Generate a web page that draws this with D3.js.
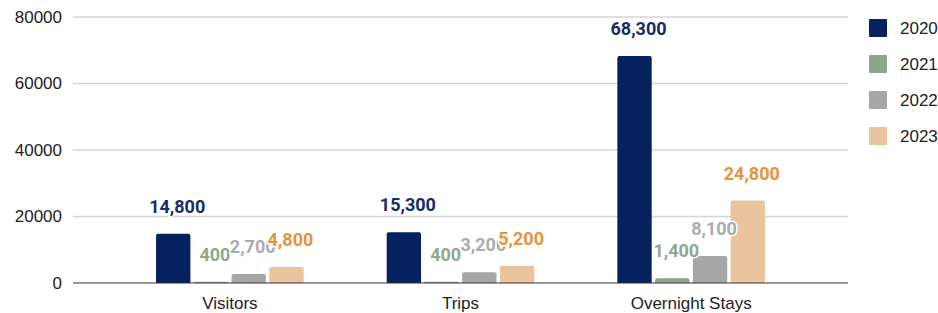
<!DOCTYPE html>
<html>
<head>
<meta charset="utf-8">
<script src="https://cdn.jsdelivr.net/npm/d3@7"></script>
<style>
  body { margin: 0; background: #fff; }
  #chart { width: 938px; height: 313px; }
  text { font-family: "Liberation Sans", Arial, sans-serif; }
</style>
</head>
<body>
<div id="chart"></div>
<script>
const categories = ["Visitors", "Trips", "Overnight Stays"];
const years = ["2020", "2021", "2022", "2023"];
const values2020 = [14800, 15300, 68300];
const values2021 = [400, 400, 1400];
const values2022 = [2700, 3200, 8100];
const values2023 = [4800, 5200, 24800];
const yTicks = [0, 20000, 40000, 60000, 80000];

const barColors = ["#06215f", "#8ba78b", "#a6a6a6", "#e9c49f"];
const labelColors = ["#172d66", "#8fa88f", "#ababab", "#e8923a"];

function chart() {
  const w = 938, h = 313;
  const left = 73, right = 848, top = 17, bottom = 283;

  const series = [values2020, values2021, values2022, values2023];

  const svg = d3.select("#chart").append("svg")
    .attr("width", w).attr("height", h);

  const yScale = d3.scaleLinear().domain([0, 80000]).range([bottom, top]);
  const x0 = d3.scaleBand().domain(categories).range([left, right]).padding(0.36);
  const x1 = d3.scaleBand().domain(years).range([0, x0.bandwidth()]).paddingInner(0.09);

  // gridlines
  svg.append("g").selectAll("line")
    .data(yTicks.filter(d => d > 0))
    .enter().append("line")
    .attr("x1", left).attr("x2", right)
    .attr("y1", d => yScale(d)).attr("y2", d => yScale(d))
    .attr("stroke", "#d4d4d4").attr("stroke-width", 1.5);

  // y axis labels
  const yAxis = d3.axisLeft(yScale).tickValues(yTicks).tickFormat(d3.format("d")).tickSize(0).tickPadding(11);
  const ya = svg.append("g").attr("transform", "translate(" + left + ",0)").call(yAxis);
  ya.select(".domain").remove();
  ya.selectAll("text").attr("font-size", 17).attr("fill", "#222")
    .style("font-family", "'Liberation Sans', Arial, sans-serif");

  // bars
  series.forEach((vals, si) => {
    const g = svg.append("g");
    g.selectAll("path")
      .data(vals)
      .enter().append("path")
      .attr("fill", barColors[si])
      .attr("d", (d, i) => {
        const x = x0(categories[i]) + x1(years[si]);
        const bw = x1.bandwidth();
        const y = yScale(d);
        const r = Math.min(2, (bottom - y) / 2);
        return "M" + x + "," + bottom + "V" + (y + r) + "Q" + x + "," + y + " " + (x + r) + "," + y +
          "H" + (x + bw - r) + "Q" + (x + bw) + "," + y + " " + (x + bw) + "," + (y + r) + "V" + bottom + "Z";
      });
  });

  // baseline
  svg.append("line")
    .attr("x1", left).attr("x2", right)
    .attr("y1", bottom).attr("y2", bottom)
    .attr("stroke", "#333").attr("stroke-width", 1);

  // value labels
  series.forEach((vals, si) => {
    svg.append("g").selectAll("text")
      .data(vals)
      .enter().append("text")
      .attr("x", (d, i) => x0(categories[i]) + x1(years[si]) + x1.bandwidth() / 2 + 4)
      .attr("y", d => yScale(d) - 21)
      .attr("text-anchor", "middle")
      .attr("font-size", 18).attr("font-weight", "bold")
      .style("font-family", "Roboto, sans-serif")
      .attr("fill", labelColors[si])
      .attr("stroke", "#fff").attr("stroke-width", 3)
      .attr("paint-order", "stroke")
      .text(d => d3.format(",")(d));
  });

  // x axis labels
  const xAxis = d3.axisBottom(x0).tickSize(0).tickPadding(14);
  const xa = svg.append("g").attr("transform", "translate(0," + bottom + ")").call(xAxis);
  xa.select(".domain").remove();
  xa.selectAll("text").attr("font-size", 17).attr("fill", "#222")
    .style("font-family", "'Liberation Sans', Arial, sans-serif");

  // legend
  const legend = svg.append("g").attr("transform", "translate(869,19)");
  const items = legend.selectAll("g").data(years).enter().append("g")
    .attr("transform", (d, i) => "translate(0," + i * 36 + ")");
  items.append("rect").attr("width", 18).attr("height", 18).attr("rx", 1)
    .attr("fill", (d, i) => barColors[i]);
  items.append("text").attr("x", 31).attr("y", 9).attr("dy", "0.35em")
    .attr("font-size", 17).attr("fill", "#222").text(d => d);
}

chart();
</script>
</body>
</html>
